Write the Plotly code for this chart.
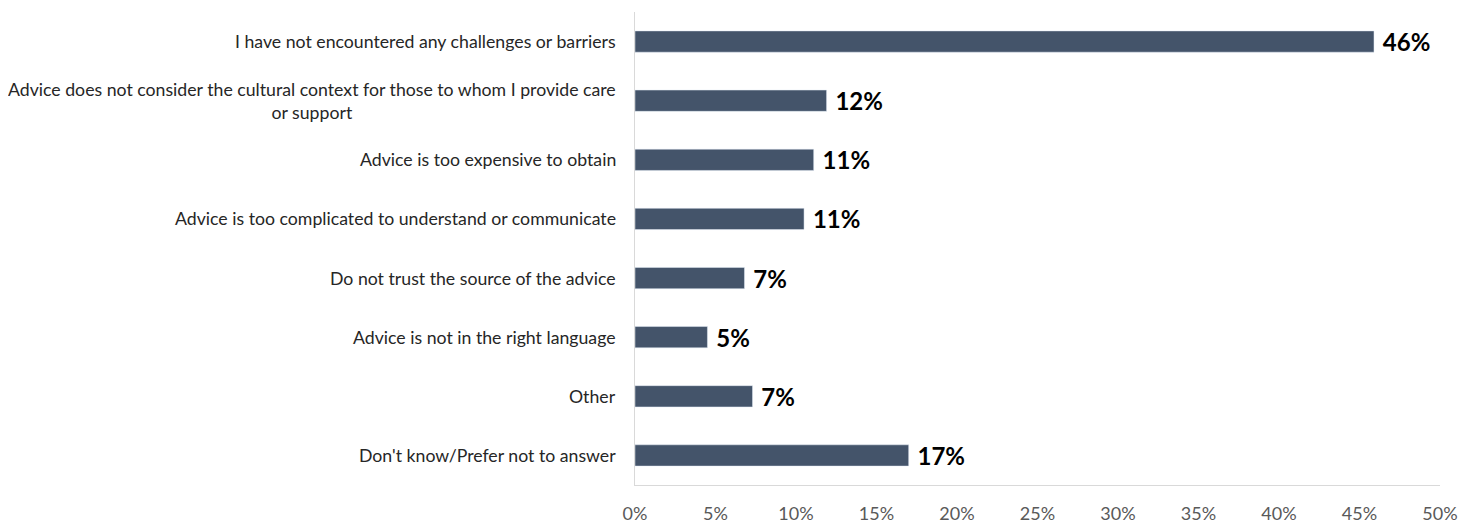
import plotly.graph_objects as go

categories = [
    "I have not encountered any challenges or barriers",
    "Advice does not consider the cultural context for those to whom I provide care<br>or support",
    "Advice is too expensive to obtain",
    "Advice is too complicated to understand or communicate",
    "Do not trust the source of the advice",
    "Advice is not in the right language",
    "Other",
    "Don't know/Prefer not to answer",
]
values = [45.9, 11.9, 11.1, 10.5, 6.8, 4.5, 7.3, 17.0]
value_labels = ["46%", "12%", "11%", "11%", "7%", "5%", "7%", "17%"]
x_ticks = [0, 5, 10, 15, 20, 25, 30, 35, 40, 45, 50]
x_tick_labels = [f"{t}%" for t in x_ticks]

fig = go.Figure(
    go.Bar(
        x=values,
        y=categories,
        orientation="h",
        marker=dict(color="#44546A"),
        width=0.36,
        text=[" " + s for s in value_labels],
        textposition="outside",
        constraintext="none",
        cliponaxis=False,
        textfont=dict(family="Lato", size=24, color="#000000", weight="bold"),
    )
)

for cat in categories:
    fig.add_annotation(
        x=0,
        xref="paper",
        y=cat,
        yref="y",
        text=cat,
        showarrow=False,
        xanchor="right",
        yanchor="middle",
        align="center",
        xshift=-17,
        font=dict(family="Lato", size=17.7, color="#262626"),
    )

fig.update_layout(
    width=1474,
    height=521,
    margin=dict(l=627, r=42, t=4, b=44),
    paper_bgcolor="white",
    plot_bgcolor="white",
    showlegend=False,
    font=dict(family="Lato", size=17.7, color="#595959"),
    xaxis=dict(
        range=[0, 50],
        tickvals=x_ticks,
        ticktext=x_tick_labels,
        showgrid=False,
        zeroline=False,
        showline=True,
        linecolor="#D9D9D9",
        linewidth=1,
        tickfont=dict(family="Lato", size=18, color="#595959"),
        ticks="",
        ticklabelstandoff=12,
    ),
    yaxis=dict(
        categoryorder="array",
        categoryarray=list(reversed(categories)),
        autorange=True,
        showgrid=False,
        zeroline=False,
        showline=True,
        linecolor="#D9D9D9",
        linewidth=1,
        ticks="",
        showticklabels=False,
    ),
)

fig.write_html("out.html")
